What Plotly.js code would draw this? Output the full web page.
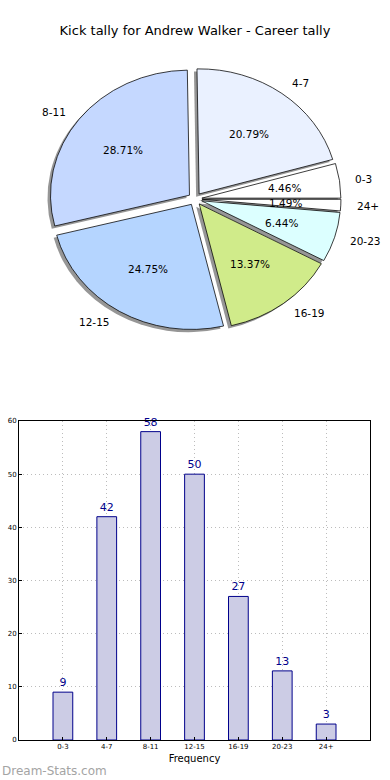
<!DOCTYPE html>
<html>
<head>
<meta charset="utf-8">
<script src="https://cdn.plot.ly/plotly-3.0.1.min.js"></script>
<style>html,body{margin:0;padding:0;background:#fff}#chart{width:390px;height:780px}</style>
</head>
<body>
<div id="chart"></div>
<script>
var categories = ['0-3', '4-7', '8-11', '12-15', '16-19', '20-23', '24+'];
var tally = [9, 42, 58, 50, 27, 13, 3];
var sliceColors = ['#ffffff', '#eaf1ff', '#c5d8ff', '#b5d5ff', '#d0eb8a', '#dcffff', '#ffffff'];
var chartTitle = 'Kick tally for Andrew Walker - Career tally';
var yTicks = [0, 10, 20, 30, 40, 50, 60];

var W = 390, H = 780;
var font = 'DejaVu Sans, sans-serif';
var explode = 0.05;
var cx = 195, cy = 199, R = 139;
var squash = 0.9;               // the original pie axes are not square: ellipse
var half = R * (1 + explode);
function dom(dx, dy) {
  return {
    x: [(cx - half + dx) / W, (cx + half + dx) / W],
    y: [1 - (cy + half + dy) / H, 1 - (cy - half + dy) / H]
  };
}
var total = tally.reduce(function(a, b){ return a + b; }, 0);
var pull = categories.map(function(){ return explode; });
// first slice starts at 3 o'clock and slices run counterclockwise
var startRotation = 90 - 360 * tally[0] / total;

var shadow = {
  type: 'pie', labels: categories, values: tally, sort: false,
  direction: 'counterclockwise', rotation: startRotation, pull: pull,
  domain: dom(-3, 3), textinfo: 'none', hoverinfo: 'skip',
  marker: {colors: categories.map(function(){ return 'rgb(150,150,150)'; }), line: {width: 0}},
  showlegend: false
};
var main = {
  type: 'pie', labels: categories, values: tally, sort: false,
  direction: 'counterclockwise', rotation: startRotation, pull: pull,
  domain: dom(0, 0), textinfo: 'none',
  marker: {colors: sliceColors, line: {color: '#000', width: 0.8}},
  showlegend: false
};
var bars = {
  type: 'bar', x: categories, y: tally, width: 0.45,
  xaxis: 'x', yaxis: 'y',
  marker: {color: '#ccccE5', line: {color: '#00008b', width: 1}},
  texttemplate: '%{y}', textposition: 'outside', cliponaxis: false,
  textfont: {family: font, size: 11, color: '#00008b'},
  showlegend: false
};

// slice texts: percentages at 0.6 radius, labels at 1.1 radius (plus the explode offset)
var annotations = [];
var cum = 0;
for (var i = 0; i < tally.length; i++) {
  var mid = 2 * Math.PI * (cum + tally[i] / 2) / total;
  cum += tally[i];
  var c = Math.cos(mid), s = Math.sin(mid);
  var rp = (0.6 + explode) * R, rl = (1.1 + explode) * R;
  annotations.push({
    text: (100 * tally[i] / total).toFixed(2) + '%', xref: 'paper', yref: 'paper',
    x: (cx + rp * c) / W, y: 1 - (cy - rp * s * squash) / H, xanchor: 'center', yanchor: 'middle',
    showarrow: false, font: {family: font, size: 10.5, color: '#000'}
  });
  annotations.push({
    text: categories[i], xref: 'paper', yref: 'paper',
    x: (cx + rl * c) / W, y: 1 - (cy - rl * s * squash) / H, xanchor: c > 0 ? 'left' : 'right', yanchor: 'middle',
    showarrow: false, font: {family: font, size: 10.5, color: '#000'}
  });
}
annotations.push({
  text: 'Dream-Stats.com', xref: 'paper', yref: 'paper', x: 0, y: 0,
  xanchor: 'left', yanchor: 'bottom', showarrow: false,
  font: {family: font, size: 12, color: '#a4a4a4'}
});

var layout = {
  width: W, height: H,
  margin: {l: 0, r: 0, t: 0, b: 0},
  paper_bgcolor: '#fff', plot_bgcolor: '#fff',
  font: {family: font, color: '#000'},
  title: {text: chartTitle, font: {family: font, size: 13, color: '#000'}, x: 0.5, xanchor: 'center', y: 1 - 30 / H, yanchor: 'middle'},
  xaxis: {
    domain: [19 / W, 370 / W], anchor: 'y', type: 'category', range: [-1, 7],
    showline: true, mirror: true, linecolor: '#000', linewidth: 1,
    showgrid: true, gridcolor: '#bcbcbc', griddash: '1px,3px', gridwidth: 1,
    ticks: 'inside', ticklen: 3, tickcolor: '#000',
    tickfont: {family: font, size: 7, color: '#000'},
    title: {text: 'Frequency', font: {family: font, size: 10, color: '#000'}, standoff: 4},
    zeroline: false, fixedrange: true
  },
  yaxis: {
    domain: [1 - 740 / H, 1 - 421 / H], anchor: 'x', range: [0, 60],
    tickvals: yTicks, ticktext: yTicks.map(String),
    showline: true, mirror: true, linecolor: '#000', linewidth: 1,
    showgrid: true, gridcolor: '#bcbcbc', griddash: '1px,3px', gridwidth: 1,
    ticks: 'inside', ticklen: 3, tickcolor: '#000',
    tickfont: {family: font, size: 7, color: '#000'},
    zeroline: false, fixedrange: true
  },
  annotations: annotations
};

Plotly.newPlot('chart', [shadow, main, bars], layout, {displayModeBar: false, staticPlot: true}).then(function(gd) {
  var layer = gd.querySelector('.pielayer');
  if (layer) layer.setAttribute('transform', 'translate(0,' + (cy * (1 - squash)) + ') scale(1,' + squash + ')');
});
</script>
</body>
</html>
